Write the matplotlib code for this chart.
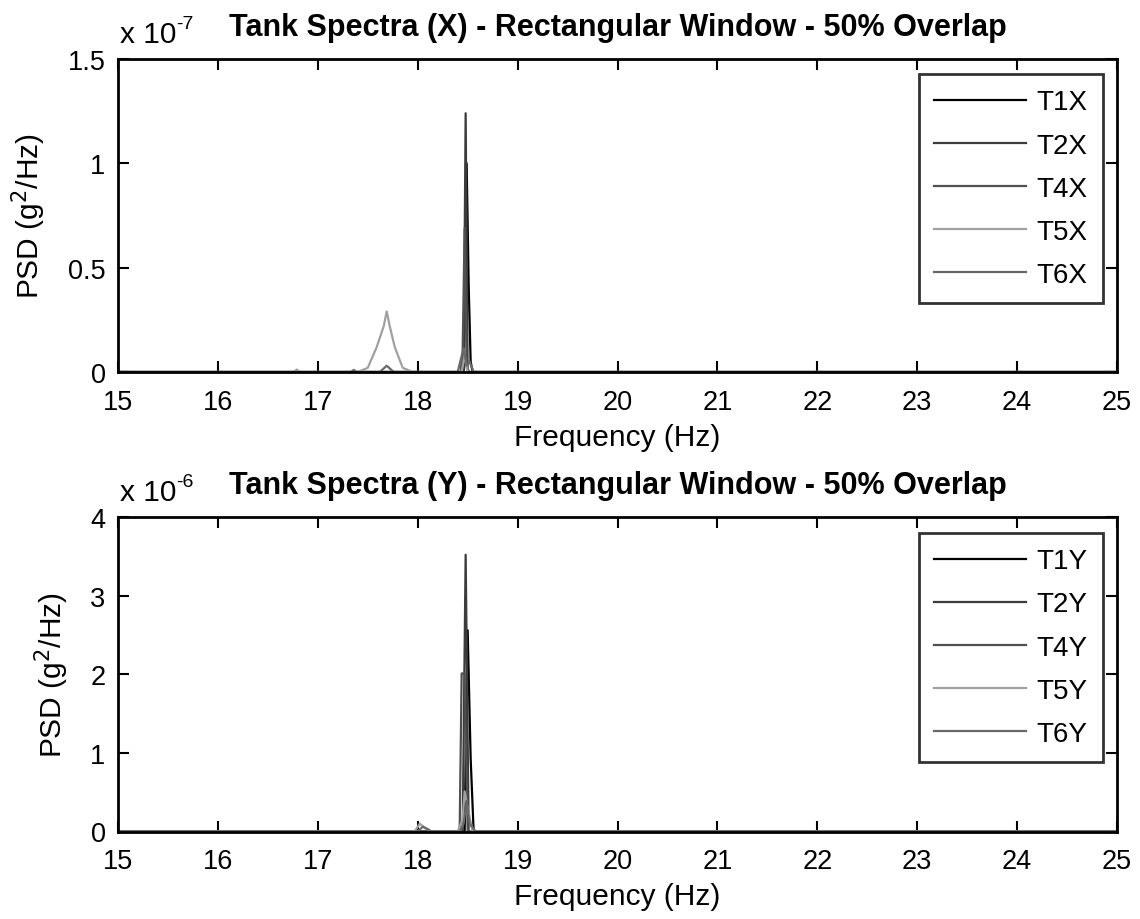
import matplotlib
matplotlib.use("Agg")
import matplotlib.pyplot as plt

plt.rcParams['font.family'] = ['Liberation Sans', 'DejaVu Sans']

# ---------------- data (X spectra, units 1e-7 g^2/Hz) ----------------
labels_x = ["T1X", "T2X", "T4X", "T5X", "T6X"]
t1x_f = [15.0, 18.46, 18.49, 18.51, 18.53, 18.55, 25.0]
t1x_v = [0.0, 0.0, 1.00, 0.42, 0.05, 0.0, 0.0]
t2x_f = [15.0, 18.46, 18.48, 18.50, 25.0]
t2x_v = [0.0, 0.0, 1.24, 0.0, 0.0]
t4x_f = [15.0, 18.43, 18.45, 18.47, 18.49, 18.52, 25.0]
t4x_v = [0.0, 0.0, 0.10, 0.69, 0.02, 0.0, 0.0]
t5x_f = [15.0, 16.76, 16.79, 16.82, 17.40, 17.50, 17.59, 17.66, 17.69, 17.72, 17.77, 17.85, 17.95, 18.44, 18.47, 18.50, 25.0]
t5x_v = [0.0, 0.0, 0.012, 0.0, 0.0, 0.02, 0.12, 0.22, 0.29, 0.22, 0.12, 0.02, 0.0, 0.0, 0.08, 0.0, 0.0]
t6x_f = [15.0, 17.33, 17.36, 17.39, 17.62, 17.69, 17.76, 18.40, 18.46, 18.49, 18.52, 18.56, 25.0]
t6x_v = [0.0, 0.0, 0.01, 0.0, 0.0, 0.03, 0.0, 0.0, 0.115, 0.03, 0.05, 0.0, 0.0]

# ---------------- data (Y spectra, units 1e-6 g^2/Hz) ----------------
labels_y = ["T1Y", "T2Y", "T4Y", "T5Y", "T6Y"]
t1y_f = [15.0, 18.47, 18.50, 18.53, 18.56, 25.0]
t1y_v = [0.0, 0.0, 2.56, 0.93, 0.0, 0.0]
t2y_f = [15.0, 18.45, 18.48, 18.51, 25.0]
t2y_v = [0.0, 0.0, 3.52, 0.0, 0.0]
t4y_f = [15.0, 18.42, 18.44, 18.47, 18.50, 25.0]
t4y_v = [0.0, 0.0, 2.01, 2.01, 0.0, 0.0]
t5y_f = [15.0, 17.97, 18.02, 18.07, 18.13, 18.40, 18.45, 18.47, 18.50, 18.55, 25.0]
t5y_v = [0.0, 0.0, 0.10, 0.05, 0.0, 0.0, 0.15, 0.51, 0.30, 0.0, 0.0]
t6y_f = [15.0, 18.00, 18.05, 18.10, 18.14, 18.42, 18.46, 18.49, 18.52, 18.58, 25.0]
t6y_v = [0.0, 0.0, 0.06, 0.03, 0.0, 0.0, 0.10, 0.39, 0.10, 0.0, 0.0]

colors = ["#000000", "#3c3c3c", "#505050", "#a0a0a0", "#686868"]

xticks = list(range(15, 26))
yticks_x = [0, 0.5, 1, 1.5]
yticks_y = [0, 1, 2, 3, 4]

FS_TICK = 19.5
FS_LAB = 21.5
FS_TITLE = 22
FS_LEG = 20

fig = plt.figure(figsize=(11.4, 9.2), dpi=100)
W, H = 1140, 920

def make_axes(top, bottom):
    return fig.add_axes([118 / W, 1 - bottom / H, (1117 - 118) / W, (bottom - top) / H])

ax1 = make_axes(60, 373)
ax2 = make_axes(518, 832.5)

series_x = [(t1x_f, t1x_v), (t2x_f, t2x_v), (t4x_f, t4x_v), (t5x_f, t5x_v), (t6x_f, t6x_v)]
series_y = [(t1y_f, t1y_v), (t2y_f, t2y_v), (t4y_f, t4y_v), (t5y_f, t5y_v), (t6y_f, t6y_v)]

def style(ax, series, labels, yticks, ytl, ylim, title, exp, legend_box):
    for (f, v), lab, c in zip(series, labels, colors):
        ax.plot(f, v, color=c, lw=1.6, label=lab)
    ax.set_xlim(15, 25)
    ax.set_ylim(*ylim)
    ax.set_xticks(xticks)
    ax.set_xticklabels([str(t) for t in xticks])
    ax.set_yticks(yticks)
    ax.set_yticklabels(ytl)
    ax.tick_params(direction='in', length=8, width=1.5, top=True, right=True,
                   labelsize=FS_TICK, colors='#000000')
    ax.tick_params(axis='x', pad=12)
    ax.tick_params(axis='y', pad=9)
    for s in ax.spines.values():
        s.set_linewidth(2.0)
        s.set_color('#000000')
    ax.set_xlabel("Frequency (Hz)", fontsize=FS_LAB, labelpad=6)
    ax.set_ylabel("PSD (g$^2$/Hz)", fontsize=FS_LAB, labelpad=14)
    ax.set_title(title, fontsize=FS_TITLE, fontweight='bold', pad=17)
    ax.text(0.002, 1.035, "x 10", transform=ax.transAxes,
            fontsize=FS_LAB, ha='left', va='bottom')
    ax.text(0.058, 1.085, exp, transform=ax.transAxes,
            fontsize=14, ha='left', va='bottom')
    leg = ax.legend(loc='upper right', bbox_to_anchor=legend_box, fontsize=FS_LEG,
                    frameon=True, fancybox=False, edgecolor='#000000',
                    handlelength=3.3, labelspacing=0.62, borderpad=0.55,
                    handletextpad=0.4, borderaxespad=0.0)
    leg.get_frame().set_linewidth(2.0)

style(ax1, series_x, labels_x, yticks_x, ["0", "0.5", "1", "1.5"], (0, 1.5),
      "Tank Spectra (X) - Rectangular Window - 50% Overlap", "-7",
      ((1103 - 118) / (1117 - 118), (373 - 75) / (373 - 60)))
style(ax2, series_y, labels_y, yticks_y, ["0", "1", "2", "3", "4"], (0, 4),
      "Tank Spectra (Y) - Rectangular Window - 50% Overlap", "-6",
      ((1103 - 118) / (1117 - 118), (832.5 - 534) / (832.5 - 518)))

fig.savefig("out.png", dpi=100, facecolor='white')
